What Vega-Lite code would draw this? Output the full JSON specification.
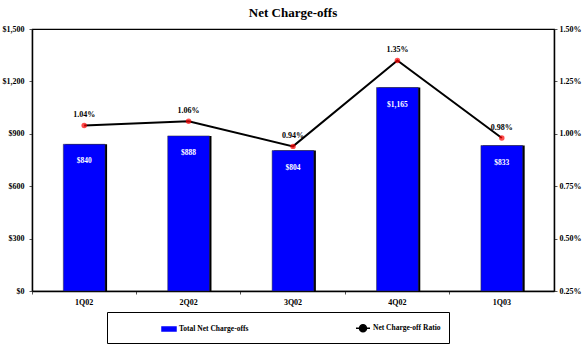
{
  "$schema": "https://vega.github.io/schema/vega-lite/v6.json",
  "width": 522,
  "height": 262,
  "autosize": {"type": "none"},
  "padding": {"left": 32, "top": 29, "right": 29, "bottom": 55},
  "background": "white",
  "title": {"text": "Net Charge-offs", "font": "Liberation Serif", "fontSize": 13, "fontWeight": "bold", "anchor": "middle", "offset": 5, "color": "black"},
  "config": {
    "font": "Liberation Serif",
    "view": {"stroke": "black", "strokeWidth": 1.1},
    "axis": {"labelFont": "Liberation Serif", "labelFontWeight": "bold", "labelFontSize": 8, "labelColor": "black", "domainColor": "black", "domainWidth": 1.5, "tickColor": "#555", "grid": false, "title": null}
  },
  "data": {"values": [
    {"quarter": "1Q02", "amount": 840, "ratio": 0.0104},
    {"quarter": "2Q02", "amount": 888, "ratio": 0.0106},
    {"quarter": "3Q02", "amount": 804, "ratio": 0.0094},
    {"quarter": "4Q02", "amount": 1165, "ratio": 0.0135},
    {"quarter": "1Q03", "amount": 833, "ratio": 0.0098}
  ]},
  "encoding": {
    "x": {"field": "quarter", "type": "nominal", "sort": null,
      "scale": {"paddingInner": 0, "paddingOuter": 0},
      "axis": {"labelAngle": 0, "bandPosition": 0, "tickSize": 3, "labelPadding": 4, "title": null}}
  },
  "layer": [
    {
      "encoding": {
        "y": {"field": "amount", "type": "quantitative",
          "scale": {"domain": [0, 1500], "nice": false},
          "axis": {"orient": "left", "values": [0, 300, 600, 900, 1200, 1500], "format": "$,.0f", "tickSize": 3, "labelPadding": 5}}
      },
      "layer": [
        {"mark": {"type": "bar", "color": "black", "width": {"band": 0.4}, "xOffset": 2}},
        {"mark": {"type": "bar", "width": {"band": 0.4}, "stroke": "#333", "strokeWidth": 0.5},
         "encoding": {"color": {"datum": "Total Net Charge-offs", "type": "nominal",
           "scale": {"domain": ["Total Net Charge-offs", "Net Charge-off Ratio"], "range": ["#0000FF", "#000000"]},
           "legend": {
             "orient": "none", "legendX": 75, "legendY": 283, "direction": "horizontal", "columns": 2,
             "title": "\u00a0", "titleOrient": "left", "titleFontSize": 2, "titlePadding": 46,
             "padding": 8, "strokeColor": "black", "fillColor": "white",
             "columnPadding": 104, "labelOffset": 2, "symbolSize": 196, "labelLimit": 300,
             "labelFont": "Liberation Serif", "labelFontWeight": "bold", "labelFontSize": 7.5, "labelColor": "black",
             "labelExpr": "indexof(datum.label, 'Ratio') >= 0 ? datum.label + '\u2003\u2003\u2003\u2003\u2003\u2003\u2003\u2003\u2003\u2003\u2003\u2003\u2003\u2003\u2003\u2003\u2003\u2003\u2003\u2003\u2003\u2003\u2003\u2003\u2003\u2003\u2003\u2003\u2003\u2003\u2003\u2003\u2003\u2003\u2003\u2003\u2003\u2003\u2003\u2003' : datum.label",
             "encoding": {"symbols": {
               "shape": {"condition": {"test": "datum.value == 'Net Charge-off Ratio'", "value": "M-1,0H1M-0.5,0A0.5,0.5 0 1,0 0.5,0A0.5,0.5 0 1,0 -0.5,0Z"}, "value": "M-1,-0.28H1V0.28H-1Z"},
               "fill": {"condition": {"test": "datum.value == 'Net Charge-off Ratio'", "value": "#FF0000"}, "value": "#0000FF"},
               "stroke": {"condition": {"test": "datum.value == 'Net Charge-off Ratio'", "value": "#000000"}, "value": "#000033"}
             }}
           }}}},
        {"mark": {"type": "text", "color": "white", "fontWeight": "bold", "fontSize": 7.5, "baseline": "middle", "dy": 17},
         "encoding": {"text": {"field": "amount", "type": "quantitative", "format": "$,.0f"}}}
      ]
    },
    {
      "encoding": {
        "y": {"field": "ratio", "type": "quantitative",
          "scale": {"domain": [0.0025, 0.015], "nice": false, "zero": false},
          "axis": {"orient": "right", "values": [0.0025, 0.005, 0.0075, 0.01, 0.0125, 0.015], "format": ".2%", "tickSize": 3, "labelPadding": 2}}
      },
      "layer": [
        {"mark": {"type": "line", "strokeWidth": 2},
         "encoding": {"color": {"datum": "Net Charge-off Ratio", "type": "nominal",
           "scale": {"domain": ["Total Net Charge-offs", "Net Charge-off Ratio"], "range": ["#0000FF", "#000000"]}}}},
        {"mark": {"type": "point", "filled": true, "color": "#FF0000", "size": 30}},
        {"mark": {"type": "text", "color": "black", "fontWeight": "bold", "fontSize": 8, "baseline": "bottom", "dy": -6},
         "encoding": {"text": {"field": "ratio", "type": "quantitative", "format": ".2%"}}}
      ]
    }
  ],
  "resolve": {"scale": {"y": "independent"}}
}
